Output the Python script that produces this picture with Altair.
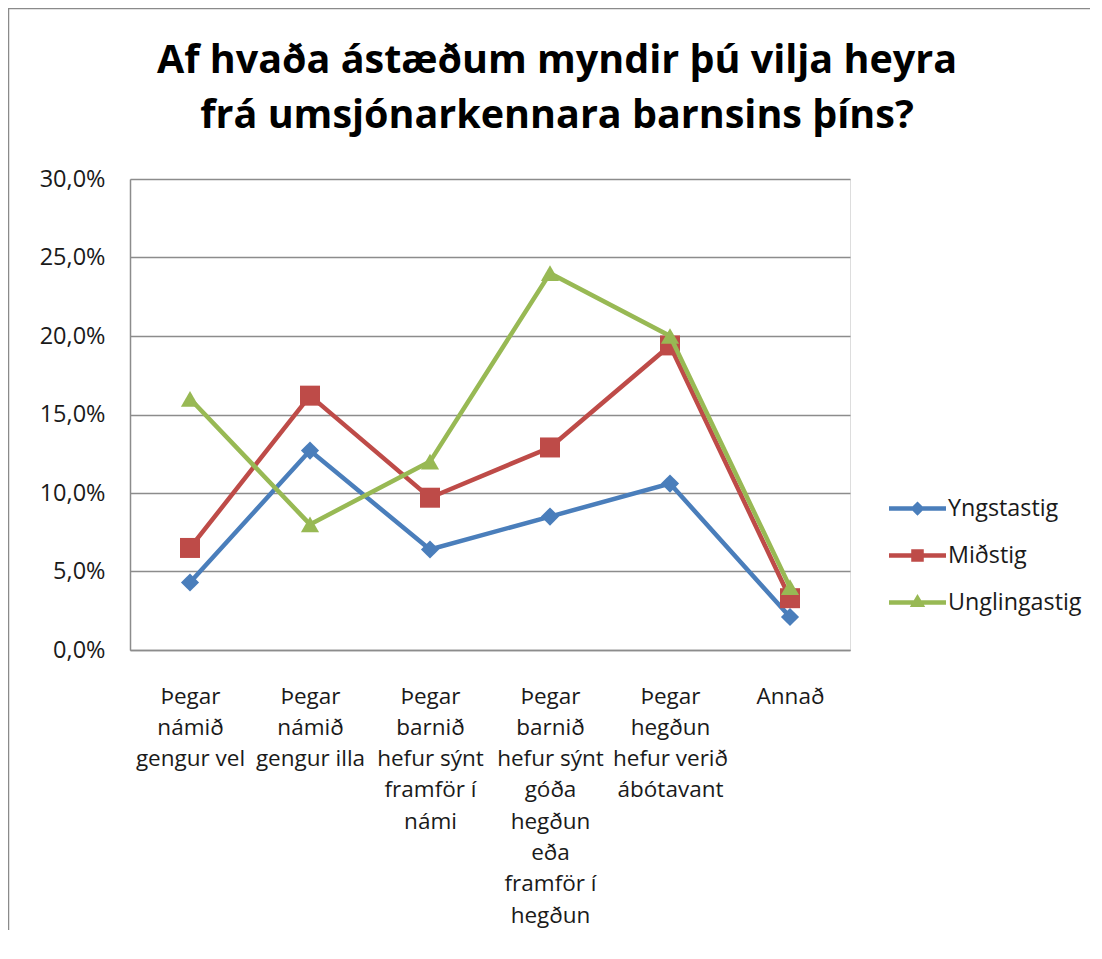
import altair as alt
import pandas as pd

# ---- data ----
categories = [
    "Þegar\nnámið\ngengur vel",
    "Þegar\nnámið\ngengur illa",
    "Þegar\nbarnið\nhefur sýnt\nframför í\nnámi",
    "Þegar\nbarnið\nhefur sýnt\ngóða\nhegðun\neða\nframför í\nhegðun",
    "Þegar\nhegðun\nhefur verið\nábótavant",
    "Annað",
]
series_names = ["Yngstastig", "Miðstig", "Unglingastig"]
yngstastig = [4.3, 12.7, 6.4, 8.5, 10.6, 2.1]
midstig = [6.5, 16.2, 9.7, 12.9, 19.4, 3.3]
unglingastig = [16.0, 8.0, 12.0, 24.0, 20.0, 4.0]
y_ticks = [0.0, 0.05, 0.10, 0.15, 0.20, 0.25, 0.30]
title_lines = ["Af hvaða ástæðum myndir þú vilja heyra",
               "frá umsjónarkennara barnsins þíns?"]

colors = ["#4A7EBB", "#BE4B48", "#98B954"]
marker_shapes = ["diamond", "square", "triangle-up"]
marker_sizes = [330, 400, 330]
legend_paths = [
    "M-1,-0.08L1,-0.08L1,0.08L-1,0.08Z M0,-0.25L0.25,0L0,0.25L-0.25,0Z",
    "M-1,-0.08L1,-0.08L1,0.08L-1,0.08Z M-0.22,-0.22L0.22,-0.22L0.22,0.22L-0.22,0.22Z",
    "M-1,-0.08L1,-0.08L1,0.08L-1,0.08Z M0,-0.3L0.27,0.16L-0.27,0.16Z",
]

rows = []
for name, vals in zip(series_names, [yngstastig, midstig, unglingastig]):
    for c, v in zip(categories, vals):
        rows.append({"cat": c, "series": name, "value": v / 100.0})
df = pd.DataFrame(rows)

FONT = "Open Sans"
W, H = 720, 471

x_enc = alt.X(
    "cat:N",
    sort=categories,
    scale=alt.Scale(domain=categories),
    axis=alt.Axis(
        title=None,
        labelAngle=0,
        labelExpr="split(datum.label, '\\n')",
        labelFont=FONT,
        labelFontSize=22.5,
        labelLineHeight=31.3,
        labelColor="#1a1a1a",
        labelBaseline="top",
        labelPadding=35,
        labelLimit=0,
        ticks=False,
        domain=True,
        domainColor="#8c8c8c",
        domainWidth=1.5,
        grid=False,
    ),
)
y_enc = alt.Y(
    "value:Q",
    scale=alt.Scale(domain=[0, 0.3], nice=False, zero=True),
    axis=alt.Axis(
        title=None,
        values=y_ticks,
        labelExpr="replace(format(datum.value, '.1%'), '.', ',')",
        labelFont=FONT,
        labelFontSize=23.5,
        labelColor="#1a1a1a",
        labelPadding=25,
        ticks=False,
        domain=True,
        domainColor="#8c8c8c",
        domainWidth=1.5,
        grid=True,
        gridColor="#8c8c8c",
        gridWidth=1.5,
    ),
)

legend_cfg = dict(
    title=None,
    orient="none",
    legendX=759,
    legendY=301,
    labelFont=FONT,
    labelFontSize=23.3,
    labelColor="#1a1a1a",
    symbolSize=3249,
    symbolStrokeWidth=0,
    symbolOpacity=1,
    rowPadding=7,
    labelOffset=2,
)

base = alt.Chart(df)

legend_layer = base.transform_filter(alt.datum.value < 0).mark_point(
    filled=True, opacity=1, strokeWidth=0
).encode(
    x=x_enc,
    y=y_enc,
    color=alt.Color(
        "series:N",
        scale=alt.Scale(domain=series_names, range=colors),
        legend=alt.Legend(**legend_cfg),
    ),
    shape=alt.Shape(
        "series:N",
        scale=alt.Scale(domain=series_names, range=legend_paths),
        legend=alt.Legend(**legend_cfg),
    ),
)

layers = [legend_layer]
for name, col, shp, sz in zip(series_names, colors, marker_shapes, marker_sizes):
    sub = base.transform_filter(alt.datum.series == name)
    layers.append(sub.mark_line(color=col, strokeWidth=4.5).encode(x=x_enc, y=y_enc))
    layers.append(
        sub.mark_point(filled=True, shape=shp, size=sz, color=col, opacity=1).encode(
            x=x_enc, y=y_enc
        )
    )

# outer chart-area frame (left and top edges, as in the reference)
frame_src = alt.Chart(pd.DataFrame({"k": [0]}))
frame_left = frame_src.mark_rule(color="#8a8a8a", strokeWidth=2.5).encode(
    x=alt.value(-122), y=alt.value(-172), y2=alt.value(800)
)
frame_top = frame_src.mark_rule(color="#8a8a8a", strokeWidth=2.5).encode(
    x=alt.value(-123), x2=alt.value(990), y=alt.value(-171)
)
layers += [frame_left, frame_top]

chart = alt.layer(*layers).resolve_scale(
    shape="independent", color="independent"
).properties(
    width=W,
    height=H,
    autosize=alt.AutoSizeParams(type="none"),
    padding={"left": 122, "top": 171, "right": 240, "bottom": 280},
    title=alt.TitleParams(
        text=title_lines,
        font=FONT,
        fontSize=39.5,
        fontWeight="bold",
        color="#000000",
        anchor="middle",
        frame="group",
        dx=67,
        offset=-131,
        lineHeight=55,
    ),
).configure_view(stroke=None).configure(background="white")

chart.save("out.html", embed_options={"renderer": "svg", "actions": False})
